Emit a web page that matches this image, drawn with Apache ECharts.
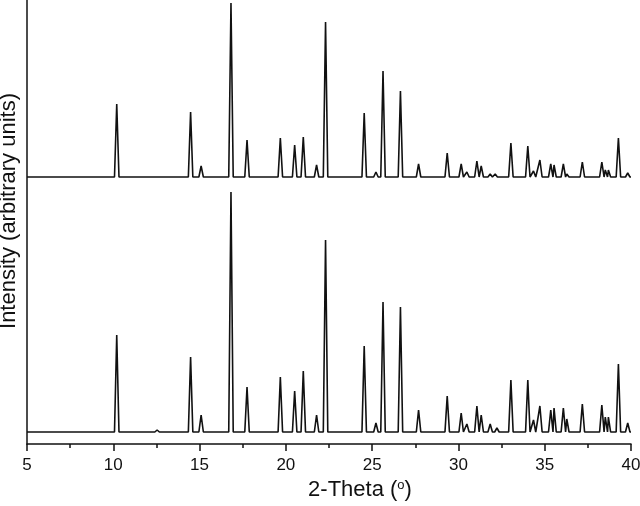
<!DOCTYPE html>
<html>
<head>
<meta charset="utf-8">
<script src="https://cdn.jsdelivr.net/npm/echarts@6/dist/echarts.min.js"></script>
<style>
  html, body { margin: 0; padding: 0; background: #fff; }
  #echart { width: 640px; height: 506px; }
</style>
</head>
<body>
<div id="echart"></div>
<script>
// peak positions (2-theta, deg) and heights above baseline (arbitrary units)
var topPos = [10.20, 14.48, 15.09, 16.82, 17.75, 19.68, 20.51, 21.01, 21.78, 22.30, 24.54, 25.22, 25.63, 26.64, 27.69,
    29.35, 30.16, 30.49, 31.07, 31.32, 31.84, 32.13, 33.04, 34.02, 34.35, 34.72, 35.35, 35.54, 36.08, 36.28,
    37.18, 38.31, 38.51, 38.69, 39.27, 39.81];
var topHeight = [73, 65, 11, 174, 37, 39, 32, 40, 12, 155, 64, 5, 106, 86, 13,
    24, 13, 5, 16, 11, 3, 3, 34, 31, 6, 17, 13, 12, 13, 3,
    15, 15, 7, 7, 39, 4];
var topBase = 267;

var bottomPos = [10.20, 12.54, 14.48, 15.09, 16.82, 17.75, 19.68, 20.51, 21.01, 21.78, 22.30, 24.54, 25.22, 25.63, 26.64, 27.69,
    29.35, 30.16, 30.49, 31.07, 31.32, 31.84, 32.23, 33.04, 34.02, 34.35, 34.72, 35.35, 35.54, 36.08, 36.28,
    37.18, 38.31, 38.51, 38.69, 39.27, 39.81];
var bottomHeight = [97, 2, 75, 17, 240, 45, 55, 41, 61, 17, 192, 86, 9, 130, 125, 22,
    36, 19, 8, 26, 17, 8, 4, 52, 52, 12, 26, 22, 24, 24, 13,
    28, 27, 15, 15, 68, 9];
var bottomBase = 12;

var xTicks = [5, 10, 15, 20, 25, 30, 35, 40];

// each peak drawn as a narrow spike: foot, apex, foot
function spikes(pos, height, base) {
    var hw = 0.13;
    var pts = [[xTicks[0], base]];
    for (var i = 0; i < pos.length; i++) {
        pts.push([pos[i] - hw, base]);
        pts.push([pos[i], base + height[i]]);
        pts.push([pos[i] + hw, base]);
    }
    pts.push([xTicks[xTicks.length - 1], base]);
    return pts;
}

var myChart = echarts.init(document.getElementById('echart'));
var font = 'Liberation Sans, Arial, sans-serif';
var option = {
    animation: false,
    grid: { left: 27, right: 9, top: 0, bottom: 62, containLabel: false, outerBoundsMode: 'none' },
    xAxis: {
        type: 'value',
        min: 5,
        max: 40,
        interval: 5,
        name: '2-Theta ({sup|o})',
        nameLocation: 'middle',
        nameGap: 35,
        nameTextStyle: {
            fontSize: 22, color: '#111', fontFamily: font, padding: [0, 0, 0, 62],
            rich: { sup: { fontSize: 13, verticalAlign: 'top', padding: [0, 0, 9, 0], color: '#111', fontFamily: font } }
        },
        axisLine: { lineStyle: { color: '#111', width: 1.5 } },
        axisTick: { inside: false, length: 7, lineStyle: { color: '#111', width: 1.5 } },
        minorTick: { show: true, splitNumber: 2, length: 4, lineStyle: { color: '#111', width: 1.5 } },
        axisLabel: { fontSize: 17, color: '#111', margin: 13, fontFamily: font },
        splitLine: { show: false }
    },
    yAxis: {
        type: 'value',
        min: 0,
        max: 444,
        name: 'Intensity (arbitrary units)',
        nameLocation: 'middle',
        nameGap: 7,
        nameTextStyle: { fontSize: 22, color: '#111', fontFamily: font, padding: [0, 0, 0, 22] },
        axisLine: { show: true, lineStyle: { color: '#111', width: 1.5 } },
        axisTick: { show: false },
        axisLabel: { show: false },
        splitLine: { show: false }
    },
    series: [
        {
            name: 'top',
            type: 'line',
            data: spikes(topPos, topHeight, topBase),
            showSymbol: false,
            lineStyle: { color: '#111', width: 1.6 }
        },
        {
            name: 'bottom',
            type: 'line',
            data: spikes(bottomPos, bottomHeight, bottomBase),
            showSymbol: false,
            lineStyle: { color: '#111', width: 1.6 }
        }
    ]
};
myChart.setOption(option);
</script>
</body>
</html>
